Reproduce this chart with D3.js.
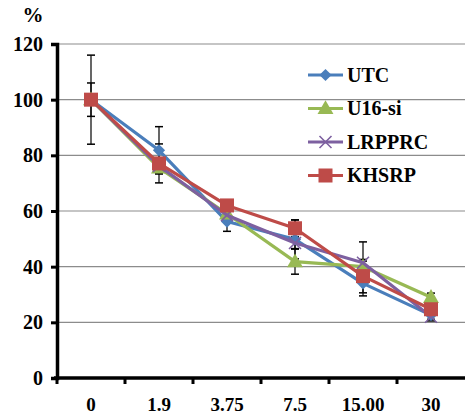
<!DOCTYPE html>
<html>
<head>
<meta charset="utf-8">
<script src="https://cdn.jsdelivr.net/npm/d3@7"></script>
<style>
  body { margin: 0; background: #fff; }
</style>
</head>
<body>
<div class="chart"></div>
<script>
const categories = ["0", "1.9", "3.75", "7.5", "15.00", "30"];
const seriesNames = ["UTC", "U16-si", "LRPPRC", "KHSRP"];
const utc = [100, 81.8, 56.2, 49.8, 34, 22.6];
const u16 = [100, 75.5, 59, 41.8, 40, 29];
const lrpprc = [100, 76.2, 58.5, 48.5, 41.4, 22];
const khsrp = [100, 77.1, 62, 53.8, 36.6, 24.7];
const utcErr = [16, 8.5, 3.5, 7, 4.5, 1.5];
const u16Err = [2, 2, 2, 4.5, 2, 1.5];
const lrpprcErr = [2, 2, 2, 2, 7.5, 1.5];
const khsrpErr = [6, 7, 2, 3, 6, 1];
const yTicks = [0, 20, 40, 60, 80, 100, 120];

const colors = ["#4a7ebb", "#98b954", "#7d60a0", "#be4b48"];
const shapes = ["diamond", "triangle", "x", "square"];
const values = [utc, u16, lrpprc, khsrp];
const errs = [utcErr, u16Err, lrpprcErr, khsrpErr];

const width = 465, height = 414;
const margin = { left: 57, right: 465, top: 44, bottom: 378 };
const serif = "'Liberation Serif', 'Times New Roman', serif";

var svg = d3.select(".chart").append("svg")
        .attr("width", width)
        .attr("height", height);

var x = d3.scaleBand().domain(categories).range([margin.left, margin.right]);
var y = d3.scaleLinear().domain([0, 120]).range([margin.bottom, margin.top]);

// grid
svg.selectAll(".grid")
        .data(yTicks.filter(d => d > 0))
        .enter().append("line")
        .attr("x1", margin.left).attr("x2", margin.right)
        .attr("y1", d => y(d)).attr("y2", d => y(d))
        .attr("stroke", "#8c8c8c")
        .attr("stroke-width", 1.2);

// y axis
var yAxis = svg.append("g")
        .attr("transform", "translate(" + margin.left + ",0)")
        .call(d3.axisLeft(y).tickValues(yTicks).tickSize(6).tickPadding(8));
yAxis.select(".domain").attr("stroke", "#000").attr("stroke-width", 3.5);
yAxis.selectAll(".tick line").attr("stroke", "#000").attr("stroke-width", 3);
yAxis.selectAll(".tick text")
        .attr("font-size", 20)
        .attr("fill", "#000")
        .style("font-family", serif)
        .style("font-weight", "bold");

// x axis
var xAxis = svg.append("g")
        .attr("transform", "translate(0," + margin.bottom + ")")
        .call(d3.axisBottom(x).tickSize(0).tickPadding(20));
xAxis.select(".domain").remove();
xAxis.append("line")
        .attr("x1", margin.left - 3).attr("x2", margin.right)
        .attr("stroke", "#000").attr("stroke-width", 3.5);
xAxis.selectAll(".tickmark")
        .data(categories)
        .enter().append("line")
        .attr("x1", d => x(d)).attr("x2", d => x(d))
        .attr("y1", 0).attr("y2", 6)
        .attr("stroke", "#000").attr("stroke-width", 3);
xAxis.selectAll(".tick text")
        .attr("font-size", 19)
        .attr("fill", "#000")
        .style("font-family", serif)
        .style("font-weight", "bold");

svg.append("text")
        .attr("x", 33).attr("y", 22)
        .attr("text-anchor", "middle")
        .attr("font-size", 21)
        .style("font-family", serif)
        .style("font-weight", "bold")
        .text("%");

var cx = d => x(d) + x.bandwidth() / 2;

// error bars
values.forEach((vals, s) => {
    var g = svg.append("g");
    vals.forEach((v, i) => {
        var e = errs[s][i];
        var xc = cx(categories[i]);
        g.append("line")
                .attr("x1", xc).attr("x2", xc)
                .attr("y1", y(v - e)).attr("y2", y(v + e))
                .attr("stroke", "#000").attr("stroke-width", 1.2);
        [v - e, v + e].forEach(t => {
            g.append("line")
                    .attr("x1", xc - 4).attr("x2", xc + 4)
                    .attr("y1", y(t)).attr("y2", y(t))
                    .attr("stroke", "#000").attr("stroke-width", 1.5);
        });
    });
});

function drawMarker(g, shape, color, px, py) {
    if (shape === "diamond") {
        g.append("path")
                .attr("d", d3.symbol().type(d3.symbolDiamond2).size(95)())
                .attr("transform", "translate(" + px + "," + py + ")")
                .attr("fill", color);
    } else if (shape === "triangle") {
        g.append("path")
                .attr("d", d3.symbol().type(d3.symbolTriangle).size(110)())
                .attr("transform", "translate(" + px + "," + (py + 1) + ")")
                .attr("fill", color);
    } else if (shape === "x") {
        g.append("path")
                .attr("d", "M-6,-6L6,6M-6,6L6,-6")
                .attr("transform", "translate(" + px + "," + py + ")")
                .attr("stroke", color)
                .attr("stroke-width", 1.6);
    } else {
        g.append("rect")
                .attr("x", px - 7).attr("y", py - 7)
                .attr("width", 14).attr("height", 14)
                .attr("fill", color);
    }
}

var line = d3.line()
        .x((d, i) => cx(categories[i]))
        .y(d => y(d));

values.forEach((vals, s) => {
    var g = svg.append("g");
    g.append("path")
            .datum(vals)
            .attr("d", line)
            .attr("fill", "none")
            .attr("stroke", colors[s])
            .attr("stroke-width", 3.2)
            .attr("stroke-linejoin", "round");
    vals.forEach((v, i) => drawMarker(g, shapes[s], colors[s], cx(categories[i]), y(v)));
});

// legend
var legend = svg.append("g");
seriesNames.forEach((name, i) => {
    var ly = 75 + i * 33.5;
    legend.append("line")
            .attr("x1", 308).attr("x2", 343)
            .attr("y1", ly).attr("y2", ly)
            .attr("stroke", colors[i]).attr("stroke-width", 3.2);
    drawMarker(legend, shapes[i], colors[i], 325.5, ly);
    legend.append("text")
            .attr("x", 347).attr("y", ly + 6.5)
            .attr("font-size", 20)
            .style("font-family", serif)
            .style("font-weight", "bold")
            .text(name);
});
</script>
</body>
</html>
